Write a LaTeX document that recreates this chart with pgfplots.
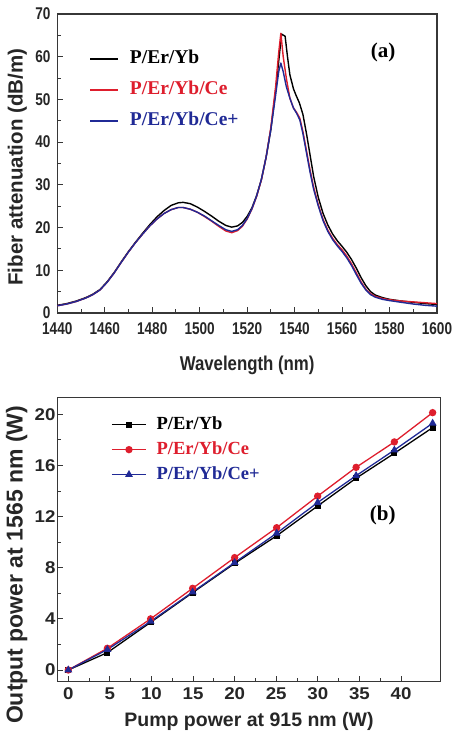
\documentclass[border=0pt]{standalone}
\usepackage{fontspec}
\usepackage{pgfplots}
\pgfplotsset{compat=1.18}
\setmainfont{Liberation Sans}
\newfontfamily\sansA{Liberation Sans}[FakeStretch=0.80]
\newfontfamily\sansB{Liberation Sans}[FakeStretch=0.84]
\newfontfamily\sansC{Liberation Sans}[FakeStretch=1.10]
\newfontfamily\serifB{Liberation Serif}
\definecolor{cred}{RGB}{222,30,45}
\definecolor{cblue}{RGB}{32,42,150}
\definecolor{frame}{RGB}{55,55,55}

\pgfplotsset{
  panel/.style={
    scale only axis,
    axis line style={frame, line width=1.2pt},
    tick style={frame, line width=1pt},
    major tick length=6pt,
    minor tick length=3.5pt,
    tick align=inside,
    xtick pos=bottom, ytick pos=left,
    minor tick num=1,
    /pgf/number format/assume math mode=true,
    /pgf/number format/1000 sep={},
    legend cell align=left,
  },
}

\begin{document}
\begin{tikzpicture}
\useasboundingbox (0pt,0pt) rectangle (454pt,740pt);

% (a) attenuation spectra
\begin{axis}[panel,
  at={(57.3pt,427pt)}, anchor=south west,
  width=379.7pt, height=299pt,
  xmin=1440, xmax=1600, ymin=0, ymax=70,
  xtick={1440,1460,...,1600}, ytick={0,10,...,70},
  ticklabel style={font=\sansA\bfseries\fontsize{17}{17}\selectfont, text=black!85, inner sep=1pt},
  xticklabel style={yshift=-8.3pt},
  yticklabel style={xshift=-5.6pt},
  xlabel={Wavelength (nm)},
  ylabel={Fiber attenuation (dB/m)},
  xlabel style={font=\sansB\bfseries\fontsize{20}{20}\selectfont, text=black!85,
    at={(axis description cs:0.5,-0.191)}, anchor=base},
  ylabel style={font=\bfseries\fontsize{20.5}{20.5}\selectfont, text=black!85,
    at={(axis description cs:-0.105,0.488)}, anchor=center},
  legend style={at={(axis description cs:0.073,0.897)}, anchor=north west,
    fill=white, draw=none, inner xsep=4pt, inner ysep=3pt,
    font=\serifB\bfseries\fontsize{19.5}{19.5}\selectfont,
    row sep=9pt,
    nodes={text height=13.5pt, text depth=4.5pt, inner sep=2pt},
    /tikz/every odd column/.append style={column sep=9pt}},
  legend image code/.code={\draw[#1, line width=1.7pt] (0pt,0pt) -- (28pt,0pt);},
]
\addplot[black, line width=1.4pt, line join=round] coordinates {
(1440,1.8) (1444,2.2) (1448,2.8) (1452,3.6) (1455,4.4) (1458,5.5)
(1461,7.3) (1464,9.5) (1467,12.0) (1470,14.4) (1473,16.6) (1476,18.7)
(1479,20.7) (1482,22.5) (1485,24.0) (1488,25.2) (1491,25.8) (1493,25.9)
(1496,25.6) (1499,24.8) (1502,23.8) (1505,22.7) (1508,21.5) (1511,20.5)
(1513.5,20.1) (1516,20.4) (1518,21.2) (1520,22.6) (1522,24.6) (1524,27.5)
(1526,31.2) (1528,36.5) (1530,43) (1532,52) (1533.5,60) (1534.5,65.3)
(1536,64.8) (1537,60) (1538,55.8) (1539.5,52.5) (1540.5,51.1) (1542,49.2)
(1543.5,46.5) (1545,42) (1546.5,37) (1548,32) (1550,27) (1552,23.3)
(1554,20.6) (1556,18.5) (1558,16.9) (1560,15.6) (1562,14.2) (1564,12.5)
(1566,10.5) (1568,8.3) (1570,6.4) (1572,5.0) (1574,4.2) (1577,3.6)
(1580,3.2) (1585,2.8) (1590,2.5) (1595,2.2) (1600,2.0)};
\addlegendentry{P/Er/Yb}
\addplot[cred, line width=1.4pt, line join=round] coordinates {
(1440,1.7) (1444,2.1) (1448,2.7) (1452,3.5) (1455,4.3) (1458,5.4)
(1461,7.2) (1464,9.4) (1467,11.9) (1470,14.3) (1473,16.5) (1476,18.5)
(1479,20.4) (1482,22.0) (1485,23.3) (1488,24.2) (1491,24.7) (1493,24.7)
(1496,24.3) (1499,23.6) (1502,22.6) (1505,21.5) (1508,20.3) (1511,19.2)
(1513.5,18.8) (1516,19.3) (1518,20.3) (1520,22.0) (1522,24.3) (1524,27.3)
(1526,31.2) (1528,36.5) (1530,43.5) (1532,53) (1533.3,61) (1534.2,65.5)
(1535.2,60) (1536.5,55) (1538,50.3) (1539.5,48) (1540.8,47) (1542.2,45.6)
(1543.5,42.5) (1545,38) (1546.5,33.5) (1548,29.5) (1550,25.3) (1552,21.9)
(1554,19.4) (1556,17.5) (1558,16.0) (1560,14.8) (1562,13.3) (1564,11.5)
(1566,9.4) (1568,7.3) (1570,5.6) (1572,4.5) (1574,3.9) (1577,3.4)
(1580,3.1) (1585,2.8) (1590,2.6) (1595,2.4) (1600,2.2)};
\addlegendentry{\color{cred}P/Er/Yb/Ce}
\addplot[cblue, line width=1.4pt, line join=round] coordinates {
(1440,1.7) (1444,2.1) (1448,2.7) (1452,3.5) (1455,4.3) (1458,5.4)
(1461,7.2) (1464,9.4) (1467,11.9) (1470,14.3) (1473,16.5) (1476,18.5)
(1479,20.4) (1482,22.0) (1485,23.3) (1488,24.2) (1491,24.7) (1493,24.7)
(1496,24.3) (1499,23.6) (1502,22.7) (1505,21.6) (1508,20.5) (1511,19.5)
(1513.5,19.1) (1516,19.5) (1518,20.5) (1520,22.1) (1522,24.4) (1524,27.4)
(1526,31.3) (1528,36.5) (1530,43) (1532,51) (1533.3,56.5) (1534.2,58.5)
(1535.2,56.5) (1536.5,53) (1538,50.3) (1539.5,48) (1540.8,46.8) (1542.2,45.2)
(1543.5,42) (1545,37.5) (1546.5,33) (1548,29) (1550,25) (1552,21.6)
(1554,19.1) (1556,17.2) (1558,15.7) (1560,14.4) (1562,12.9) (1564,11.1)
(1566,9.0) (1568,7.0) (1570,5.4) (1572,4.3) (1574,3.7) (1577,3.2)
(1580,2.9) (1585,2.5) (1590,2.1) (1595,1.8) (1600,1.6)};
\addlegendentry{\color{cblue}P/Er/Yb/Ce+}
\node[font=\serifB\bfseries\fontsize{21}{21}\selectfont, fill=white, inner sep=4pt]
  at (rel axis cs:0.858,0.873) {(a)};
\end{axis}

% (b) laser output versus pump power
\begin{axis}[panel,
  at={(57.3pt,58.3pt)}, anchor=south west,
  width=383.4pt, height=284.4pt,
  xmin=-1.32, xmax=44.77, ymin=-0.915, ymax=21.33,
  xtick={0,5,...,40}, ytick={0,4,...,20},
  ticklabel style={font=\sansC\bfseries\fontsize{17}{17}\selectfont, text=black!85},
  xticklabel style={yshift=-2.6pt},
  yticklabel style={xshift=1.7pt},
  xlabel={Pump power at 915 nm (W)},
  ylabel={Output power at 1565 nm (W)},
  xlabel style={font=\bfseries\fontsize{19.5}{19.5}\selectfont, text=black!85,
    at={(axis description cs:0.5,-0.158)}, anchor=base},
  ylabel style={font=\bfseries\fontsize{23}{23}\selectfont, text=black!85,
    at={(axis description cs:-0.106,0.411)}, anchor=center},
  legend style={at={(axis description cs:0.13,0.952)}, anchor=north west,
    fill=white, draw=none, inner xsep=4pt, inner ysep=3pt,
    font=\serifB\bfseries\fontsize{18.5}{18.5}\selectfont,
    row sep=4pt,
    nodes={text height=13pt, text depth=4pt, inner sep=2pt},
    /tikz/every odd column/.append style={column sep=8pt}},
  legend image code/.code={\draw[mark repeat=2, mark phase=2, #1]
    plot coordinates {(0pt,0pt) (17pt,0pt) (34pt,0pt)};},
]
\addplot[black, line width=1.3pt, mark=square*, mark size=2.4pt] coordinates {
(0,0) (4.7,1.36) (9.9,3.73) (14.95,6.05) (20,8.34) (25.05,10.5)
(29.98,12.83) (34.6,15.0) (39.2,16.95) (43.8,18.96)};
\addlegendentry{P/Er/Yb}
\addplot[cred, line width=1.3pt, mark=*, mark size=3pt] coordinates {
(0,0) (4.7,1.7) (9.9,4.0) (14.95,6.39) (20,8.79) (25.05,11.13)
(29.98,13.6) (34.6,15.85) (39.2,17.84) (43.8,20.13)};
\addlegendentry{\color{cred}P/Er/Yb/Ce}
\addplot[cblue, line width=1.3pt, mark=triangle*, mark size=3.3pt] coordinates {
(0,0) (4.7,1.6) (9.9,3.8) (14.95,6.1) (20,8.4) (25.05,10.7)
(29.98,13.1) (34.6,15.2) (39.2,17.2) (43.8,19.3)};
\addlegendentry{\color{cblue}P/Er/Yb/Ce+}
\node[font=\serifB\bfseries\fontsize{21}{21}\selectfont]
  at (rel axis cs:0.849,0.583) {(b)};
\end{axis}
\end{tikzpicture}
\end{document}
